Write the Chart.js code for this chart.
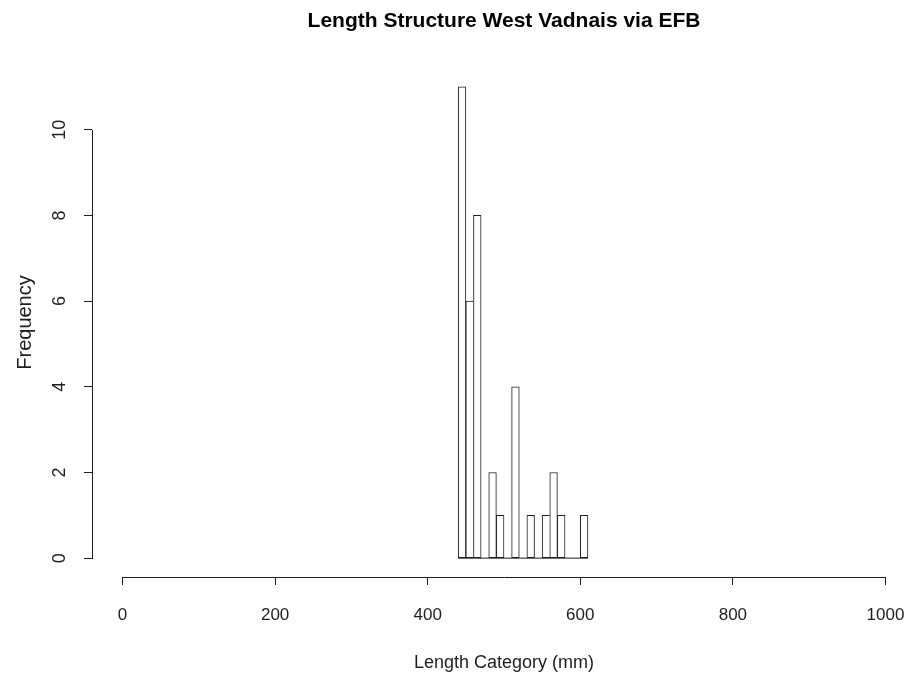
<!DOCTYPE html>
<html>
<head>
<meta charset="utf-8">
<script src="https://cdn.jsdelivr.net/npm/chart.js@4/dist/chart.umd.min.js"></script>
<style>
html,body{margin:0;padding:0;background:#fff;overflow:hidden;}
#wrap{width:908px;height:675px;position:relative;}
</style>
</head>
<body>
<div id="wrap"><canvas id="c" width="908" height="675"></canvas></div>
<script>
// ---- data ----
const chartTitle = "Length Structure West Vadnais via EFB";
const xTitle = "Length Category (mm)";
const yTitle = "Frequency";
const binStarts = [440,450,460,470,480,490,500,510,520,530,540,550,560,570,580,590,600];
const binWidth = 10;
const counts = [11,6,8,0,2,1,0,4,0,1,0,1,2,1,0,0,1];
const xTicks = [0,200,400,600,800,1000];
const yTicks = [0,2,4,6,8,10];

const FONT = "'Liberation Sans', Arial, sans-serif";
const INK = '#1e1e1e';

const barData = binStarts.map((s,i)=>({x:s+binWidth/2, y:counts[i]}));
const baseLine = [{x:binStarts[0], y:0},{x:binStarts[binStarts.length-1]+binWidth, y:0}];

const rPlugin = {
  id:'rStyle',
  afterDraw(chart){
    const ctx = chart.ctx, xs = chart.scales.x, ys = chart.scales.y, ca = chart.chartArea;
    ctx.save();
    ctx.strokeStyle = INK; ctx.lineWidth = 1;
    // x axis line
    ctx.beginPath();
    ctx.moveTo(Math.round(xs.getPixelForValue(xTicks[0])), Math.round(ca.bottom)+0.5);
    ctx.lineTo(Math.round(xs.getPixelForValue(xTicks[xTicks.length-1]))+1, Math.round(ca.bottom)+0.5);
    ctx.stroke();
    // y axis line
    ctx.beginPath();
    ctx.moveTo(Math.round(ca.left)+0.5, Math.round(ys.getPixelForValue(yTicks[0]))+1);
    ctx.lineTo(Math.round(ca.left)+0.5, Math.round(ys.getPixelForValue(yTicks[yTicks.length-1])));
    ctx.stroke();
    // titles
    ctx.fillStyle = '#000';
    ctx.textAlign = 'center'; ctx.textBaseline = 'middle';
    const cx = xs.getPixelForValue(500);
    ctx.font = "bold 21px " + FONT;
    ctx.fillText(chartTitle, cx, 21);
    ctx.font = "18px " + FONT;
    ctx.fillStyle = INK;
    ctx.fillText(xTitle, cx, 663);
    ctx.save();
    ctx.font = "20px " + FONT;
    ctx.translate(25, (ca.top+ca.bottom)/2);
    ctx.rotate(-Math.PI/2);
    ctx.fillText(yTitle, 0, 0);
    ctx.restore();
    ctx.restore();
  }
};

new Chart(document.getElementById('c'), {
  data:{
    datasets:[
      {
        type:'bar',
        data:barData,
        backgroundColor:'#fff',
        borderColor:INK,
        borderSkipped:false,
        borderWidth:(c)=>{
          const i = c.dataIndex;
          const h = counts[i];
          const nxt = i+1 < counts.length ? counts[i+1] : 0;
          return {top:1, left:1, bottom:1, right: nxt < h ? 1 : 0};
        },
        barPercentage:1,
        categoryPercentage:1,
        grouped:false
      },
      {
        type:'line',
        data:baseLine,
        borderColor:INK,
        borderWidth:1,
        pointRadius:0,
        fill:false
      }
    ]
  },
  options:{
    responsive:false,
    animation:false,
    devicePixelRatio:1,
    layout:{padding:{top:68,right:0,bottom:0,left:0}},
    plugins:{legend:{display:false},tooltip:{enabled:false},title:{display:false}},
    scales:{
      x:{
        type:'linear',
        offset:false,
        min:-40, max:1029.5,
        afterBuildTicks:(s)=>{ s.ticks = xTicks.map(v=>({value:v})); },
        afterFit:(s)=>{ s.height = 98; s.paddingLeft = 0; s.paddingRight = 0; },
        grid:{offset:false, drawOnChartArea:false, drawTicks:true, tickLength:8, color:INK, lineWidth:1},
        border:{display:false},
        ticks:{font:{family:FONT, size:17}, color:INK, padding:20, maxRotation:0, autoSkip:false,
               callback:(v)=>String(v)}
      },
      y:{
        type:'linear',
        min:-0.44, max:11.44,
        afterBuildTicks:(s)=>{ s.ticks = yTicks.map(v=>({value:v})); },
        afterFit:(s)=>{ s.width = 92; s.paddingTop = 0; s.paddingBottom = 0; },
        grid:{drawOnChartArea:false, drawTicks:true, tickLength:8, color:INK, lineWidth:1},
        border:{display:false},
        ticks:{font:{family:FONT, size:18}, color:INK, padding:14, minRotation:90, maxRotation:90, crossAlign:'center', autoSkip:false,
               callback:(v)=>String(v)}
      }
    }
  },
  plugins:[rPlugin]
});
</script>
</body>
</html>
